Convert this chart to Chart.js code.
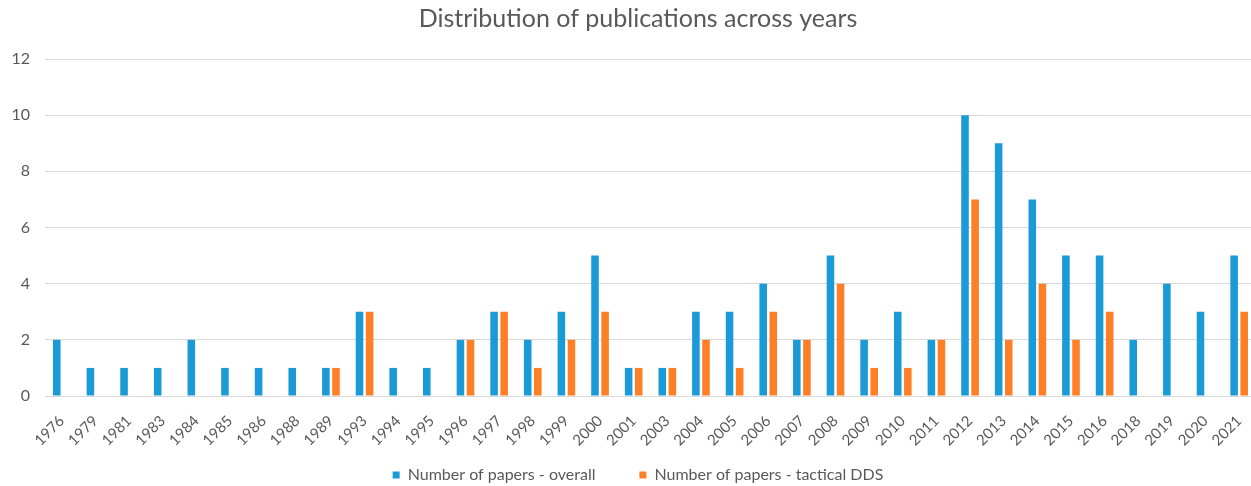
<!DOCTYPE html>
<html>
<head>
<meta charset="utf-8">
<script src="https://cdn.jsdelivr.net/npm/chart.js@4"></script>
<style>
  html, body { margin: 0; padding: 0; background: #fff; overflow: hidden; }
  #wrap { width: 1276px; height: 522px; }
</style>
</head>
<body>
<div id="wrap"><canvas id="chart" width="1276" height="522"></canvas></div>
<script>
const years = ["1976", "1979", "1981", "1983", "1984", "1985", "1986", "1988", "1989", "1993",
  "1994", "1995", "1996", "1997", "1998", "1999", "2000", "2001", "2003", "2004",
  "2005", "2006", "2007", "2008", "2009", "2010", "2011", "2012", "2013", "2014",
  "2015", "2016", "2018", "2019", "2020", "2021"];

const papersOverall = [2, 1, 1, 1, 2, 1, 1, 1, 1, 3,
  1, 1, 2, 3, 2, 3, 5, 1, 1, 3,
  3, 4, 2, 5, 2, 3, 2, 10, 9, 7,
  5, 5, 2, 4, 3, 5];

const papersTactical = [0, 0, 0, 0, 0, 0, 0, 0, 1, 3,
  0, 0, 2, 3, 1, 2, 3, 1, 1, 2,
  1, 3, 2, 4, 1, 1, 2, 7, 2, 4,
  2, 3, 0, 0, 0, 3];

const yTicks = [0, 2, 4, 6, 8, 10, 12];

const textGray = "#595959";
const font = "Lato, 'Open Sans', sans-serif";

// legend padding is also its top gap, so pull it up closer to the axis labels
const liftLegend = {
  id: "liftLegend",
  afterLayout(chart) {
    chart.legend.top -= 29;
    chart.legend.bottom -= 29;
  },
};

const ctx = document.getElementById("chart");
new Chart(ctx, {
  type: "bar",
  data: {
    labels: years,
    datasets: [
      {
        label: "Number of papers - overall",
        data: papersOverall,
        backgroundColor: "#1b9ad8",
        barPercentage: 0.75,
        categoryPercentage: 0.6,
      },
      {
        label: "Number of papers - tactical DDS",
        data: papersTactical,
        backgroundColor: "#ff7f27",
        barPercentage: 0.75,
        categoryPercentage: 0.6,
      },
    ],
  },
  options: {
    responsive: false,
    animation: false,
    layout: { padding: { top: 0, right: 0, left: 0, bottom: 0 } },
    plugins: {
      title: {
        display: true,
        text: "Distribution of publications across years",
        color: textGray,
        font: { family: font, size: 25, weight: "normal" },
        padding: { top: 4, bottom: 25 },
      },
      legend: {
        position: "bottom",
        labels: {
          color: textGray,
          font: { family: font, size: 16 },
          boxWidth: 7,
          boxHeight: 7,
          padding: 44,
        },
      },
      tooltip: { enabled: false },
    },
    scales: {
      x: {
        grid: { display: false },
        border: { color: "#d9d9d9", width: 1 },
        afterFit: (scale) => {
          scale.height = 56;
        },
        ticks: {
          color: textGray,
          font: { family: font, size: 15 },
          minRotation: 45,
          maxRotation: 45,
          autoSkip: false,
          padding: 8,
        },
      },
      y: {
        min: 0,
        max: 12,
        afterBuildTicks: (scale) => {
          scale.ticks = yTicks.map((v) => ({ value: v }));
        },
        afterFit: (scale) => {
          scale.width = 45;
        },
        grid: { color: "#d9d9d9", drawTicks: false },
        border: { display: false },
        ticks: {
          color: textGray,
          font: { family: font, size: 16 },
          padding: 15,
        },
      },
      // empty right-hand axis: keeps the plot edge where the cropped original had it
      spacer: {
        type: "linear",
        position: "right",
        grid: { display: false },
        border: { display: false },
        ticks: { display: false },
        afterFit: (scale) => {
          scale.width = 20;
        },
      },
    },
  },
  plugins: [liftLegend],
});
</script>
</body>
</html>
